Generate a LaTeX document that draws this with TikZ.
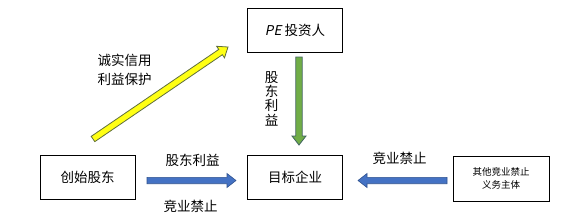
\documentclass[tikz,border=0pt]{standalone}
\usepackage{fontspec}
\setmainfont[AutoFakeSlant=0.2]{Noto Sans CJK SC}
\usetikzlibrary{calc}
\definecolor{arrowyel}{RGB}{255,255,20}
\definecolor{arrowyeld}{RGB}{95,110,60}
\definecolor{arrowgrn}{RGB}{112,173,71}
\definecolor{arrowgrnd}{RGB}{65,100,95}
\definecolor{arrowblu}{RGB}{68,114,196}
\definecolor{arrowblud}{RGB}{47,82,143}
\tikzset{
  box/.style={draw=black, line width=0.9pt, fill=white, align=center,
              font=\fontsize{13.5}{16}\selectfont,
              minimum width=95, minimum height=44, inner sep=2pt},
  smallbox/.style={box, font=\fontsize{9.5}{13}\selectfont},
  lbl/.style={font=\fontsize{13.5}{19}\selectfont, align=center, inner sep=0pt},
  yelarrow/.style={fill=arrowyel, draw=arrowyeld, line width=0.8pt, line join=miter},
  grnarrow/.style={fill=arrowgrn, draw=arrowgrnd, line width=0.8pt, line join=miter},
  bluarrow/.style={fill=arrowblu, draw=arrowblud, line width=0.6pt, line join=miter},
}
% block arrow: #1 style, #2 from, #3 to
\newcommand{\blockarrow}[3]{%
  \draw[#1] ($(#2)!3.2pt!90:(#3)$)
    -- ($(#3)!9pt!(#2)!3.2pt!90:(#3)$)
    -- ($(#3)!9pt!(#2)!7pt!90:(#3)$)
    -- (#3)
    -- ($(#3)!9pt!(#2)!7pt!-90:(#3)$)
    -- ($(#3)!9pt!(#2)!3.2pt!-90:(#3)$)
    -- ($(#2)!3.2pt!-90:(#3)$) -- cycle;}

\begin{document}
\begin{tikzpicture}[x=1pt, y=-1pt]
\useasboundingbox (0,0) rectangle (579,217);

% ---------------------------------------------------------------- boxes
\node[box] (pe) at (295,30.5) {\textit{PE} 投资人};
\node[box] (founder) at (87.5,177.5) {创始股东};
\node[box] (target) at (295,177) {目标企业};
\node[smallbox, minimum width=96, minimum height=45] (other) at (501,178.5)
  {其他竞业禁止\\义务主体};

% ---------------------------------------------------------------- arrows
\coordinate (yelS) at (93,139);
\coordinate (yelE) at (228,47);
\blockarrow{yelarrow}{yelS}{yelE}

\coordinate (grnS) at (299,57);
\coordinate (grnE) at (299,145);
\blockarrow{grnarrow}{grnS}{grnE}

\coordinate (bluS) at (147,180.5);
\coordinate (bluE) at (236,180.5);
\blockarrow{bluarrow}{bluS}{bluE}

\coordinate (bluS2) at (447,180.5);
\coordinate (bluE2) at (358,180.5);
\blockarrow{bluarrow}{bluS2}{bluE2}

% ---------------------------------------------------------------- labels
\node[lbl] (trust) at (124.5,70) {诚实信用\\利益保护};
\node[lbl, font=\fontsize{13.5}{14.3}\selectfont] (peint) at (271.5,98.5)
  {股\\东\\利\\益};
\node[lbl] (fint) at (192.5,160) {股东利益};
\node[lbl] (fnc) at (190.5,206) {竞业禁止};
\node[lbl] (onc) at (399.5,158) {竞业禁止};

\end{tikzpicture}
\end{document}
